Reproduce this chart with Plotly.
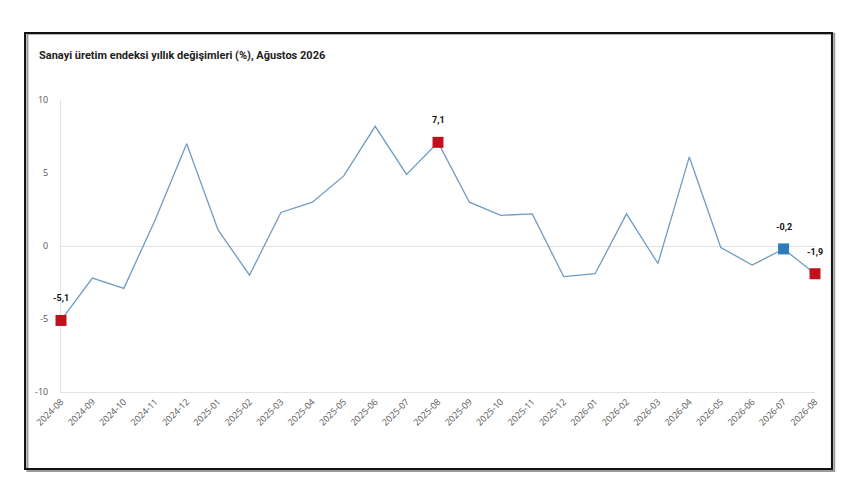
import plotly.graph_objects as go

months = ["2024-08","2024-09","2024-10","2024-11","2024-12","2025-01","2025-02","2025-03",
          "2025-04","2025-05","2025-06","2025-07","2025-08","2025-09","2025-10","2025-11",
          "2025-12","2026-01","2026-02","2026-03","2026-04","2026-05","2026-06","2026-07","2026-08"]
values = [-5.1, -2.2, -2.9, 1.8, 7.0, 1.1, -2.0, 2.3, 3.0, 4.8, 8.2, 4.9, 7.1, 3.0, 2.1, 2.2,
          -2.1, -1.9, 2.2, -1.2, 6.1, -0.1, -1.3, -0.2, -1.9]

red_months = ["2024-08", "2025-08", "2026-08"]
blue_months = ["2026-07"]
title_text = "Sanayi üretim endeksi yıllık değişimleri (%), Ağustos 2026"
y_ticks = [-10, -5, 0, 5, 10]

val = dict(zip(months, values))

def fmt(v):
    return f"{v:.1f}".replace(".", ",")

fig = go.Figure()
fig.add_trace(go.Scatter(x=months, y=values, mode="lines", cliponaxis=False,
                         line=dict(color="#6f9cc2", width=1.3), hoverinfo="skip"))
fig.add_trace(go.Scatter(x=red_months, y=[val[m] for m in red_months], mode="markers", cliponaxis=False,
                         marker=dict(symbol="square", size=11, color="#c0121c"), hoverinfo="skip"))
fig.add_trace(go.Scatter(x=blue_months, y=[val[m] for m in blue_months], mode="markers", cliponaxis=False,
                         marker=dict(symbol="square", size=11, color="#2e7bbd"), hoverinfo="skip"))

for m in red_months + blue_months:
    fig.add_annotation(x=m, y=val[m], text="<b>" + fmt(val[m]) + "</b>", showarrow=False, yshift=22,
                       font=dict(family="Roboto", size=9, color="#111"))

# frame shadow and border
fig.add_shape(type="rect", xref="paper", yref="paper", x0=-0.0445, x1=1.0255, y0=-0.2705, y1=1.2265,
              line=dict(color="#9a9a9a", width=2), layer="below")
fig.add_shape(type="rect", xref="paper", yref="paper", x0=-0.0477, x1=1.0225, y0=-0.2637, y1=1.2295,
              line=dict(color="#111", width=2), layer="below")

fig.add_annotation(xref="paper", yref="paper", x=-0.032, y=1.152, xanchor="left", yanchor="middle",
                   text="<b>" + title_text + "</b>", showarrow=False,
                   font=dict(family="Roboto", size=11, color="#222"))

fig.update_layout(
    width=860, height=504,
    margin=dict(l=61, r=45, t=100, b=112),
    paper_bgcolor="white", plot_bgcolor="white",
    showlegend=False,
    xaxis=dict(type="category", range=[0, len(months) - 1], tickangle=-45, layer="below traces",
               showgrid=False, showline=True, linecolor="#e3e3e3", linewidth=1,
               ticks="", tickfont=dict(family="Open Sans", size=9, color="#555555"),
               zeroline=False),
    yaxis=dict(range=[-10, 10], tickvals=y_ticks, ticktext=[str(t) for t in y_ticks], layer="below traces",
               showgrid=False, zeroline=True, zerolinecolor="#e3e3e3", zerolinewidth=1,
               showline=True, linecolor="#e3e3e3", linewidth=1, ticks="", ticklabelstandoff=10,
               tickfont=dict(family="Open Sans", size=9, color="#555555")),
)

fig.write_html("out.html")
